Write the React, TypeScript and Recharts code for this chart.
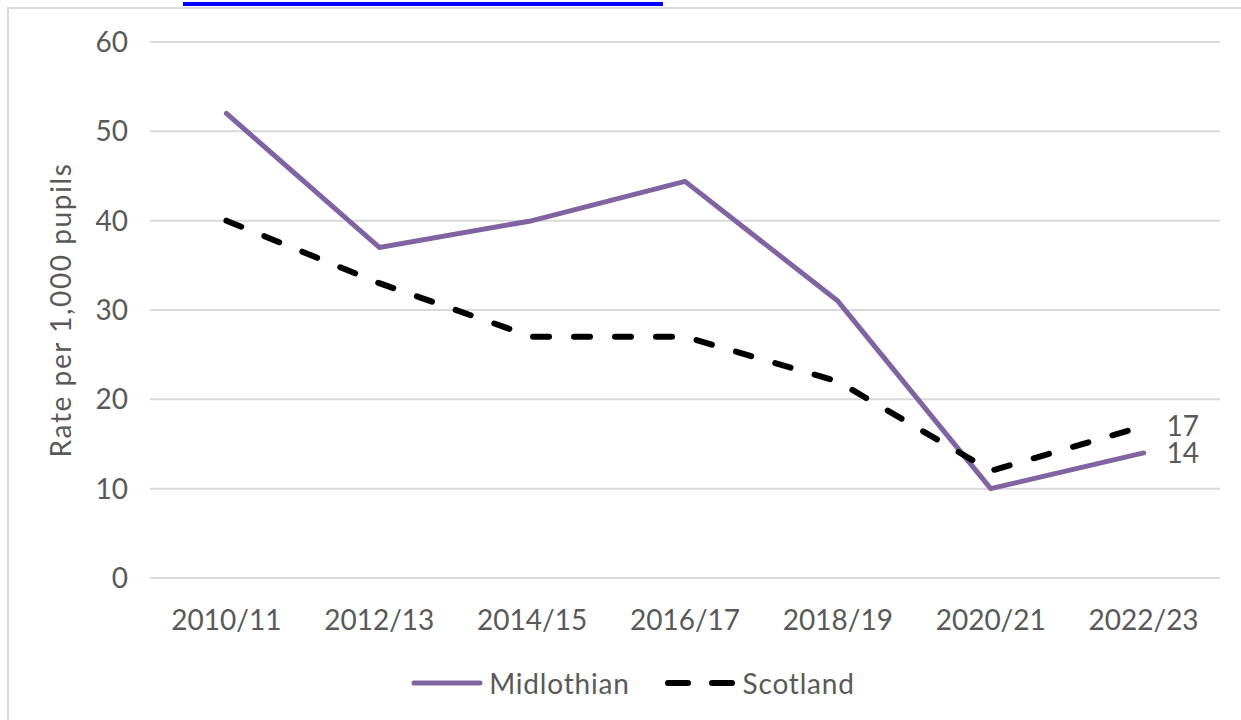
import React from "react";
import { LineChart, Line, XAxis, YAxis, CartesianGrid, Legend, LabelList } from "recharts";

const categories = ["2010/11", "2012/13", "2014/15", "2016/17", "2018/19", "2020/21", "2022/23"];
const midlothian = [52, 37, 40, 44.4, 31, 10, 14];
const scotland = [40, 33, 27, 27, 22, 12, 17];
const yTicks = [0, 10, 20, 30, 40, 50, 60];

const data = categories.map((c, i) => ({ year: c, Midlothian: midlothian[i], Scotland: scotland[i] }));

const FONT = "Lato, 'Liberation Sans', sans-serif";
const TEXT = "#595959";
const PURPLE = "#8064A2";

const EndLabel = (props: any) => {
  const { x, y, value, index } = props;
  if (index !== categories.length - 1) return null;
  return (
    <text x={x + 23} y={y} dy={10} fill={TEXT} fontSize={28} fontFamily={FONT} textAnchor="start">
      {value}
    </text>
  );
};

const YLabel = (props: any) => {
  const vb = props.viewBox || {};
  const cx = vb.x - 6;
  const cy = vb.y + vb.height / 2;
  return (
    <text
      x={cx}
      y={cy}
      transform={`rotate(-90, ${cx}, ${cy})`}
      textAnchor="middle"
      dominantBaseline="middle"
      fill={TEXT}
      fontSize={28}
      letterSpacing={1.6}
      fontFamily={FONT}
    >
      Rate per 1,000 pupils
    </text>
  );
};

const LegendContent = () => (
  <div
    style={{
      display: "flex",
      justifyContent: "center",
      alignItems: "center",
      height: 40,
      paddingRight: 24,
      fontFamily: FONT,
      fontSize: 28,
      color: TEXT,
    }}
  >
    <svg width={78} height={12}>
      <line x1={3} y1={6} x2={69} y2={6} stroke={PURPLE} strokeWidth={5} strokeLinecap="round" />
    </svg>
    <span style={{ marginRight: 35, letterSpacing: 0.8 }}>Midlothian</span>
    <svg width={78} height={12}>
      <line x1={3} y1={6} x2={69} y2={6} stroke="#000" strokeWidth={6} strokeLinecap="round" strokeDasharray="20 24" />
    </svg>
    <span style={{ letterSpacing: 0.8 }}>Scotland</span>
  </div>
);

export default function App() {
  return (
    <div style={{ position: "absolute", left: 0, top: 0, width: 1241, height: 720, overflow: "hidden", background: "#fff" }}>
      <div style={{ position: "absolute", left: 183, top: 2, width: 480, height: 4, background: "#0000ff" }} />
      <div style={{ position: "absolute", left: 7, top: 7, width: 1400, height: 900, border: "2px solid #d9d9d9", boxSizing: "border-box" }} />
      <div style={{ position: "absolute", left: 0, top: 0 }}>
        <LineChart width={1241} height={720} data={data} margin={{ top: 42, right: 21, left: 70, bottom: 17 }}>
          <CartesianGrid vertical={false} stroke="#d9d9d9" strokeWidth={2} />
          <XAxis
            dataKey="year"
            scale="band"
            axisLine={false}
            tickLine={false}
            tickSize={0}
            tickMargin={32}
            height={85}
            tick={{ fill: TEXT, fontSize: 28, fontFamily: FONT }}
            interval={0}
          />
          <YAxis
            domain={[0, 60]}
            ticks={yTicks}
            axisLine={false}
            tickLine={false}
            tickSize={0}
            tickMargin={22}
            width={80}
            tick={{ fill: TEXT, fontSize: 28, fontFamily: FONT }}
            label={<YLabel />}
          />
          <Legend verticalAlign="bottom" height={40} content={<LegendContent />} />
          <Line
            type="linear"
            dataKey="Midlothian"
            stroke={PURPLE}
            strokeWidth={5}
            dot={false}
            activeDot={false}
            isAnimationActive={false}
            strokeLinejoin="round"
            strokeLinecap="round"
          >
            <LabelList dataKey="Midlothian" content={<EndLabel />} />
          </Line>
          <Line
            type="linear"
            dataKey="Scotland"
            stroke="#000"
            strokeWidth={6}
            strokeDasharray="16 25"
            strokeLinecap="round"
            dot={false}
            activeDot={false}
            isAnimationActive={false}
          >
            <LabelList dataKey="Scotland" content={<EndLabel />} />
          </Line>
        </LineChart>
      </div>
    </div>
  );
}
